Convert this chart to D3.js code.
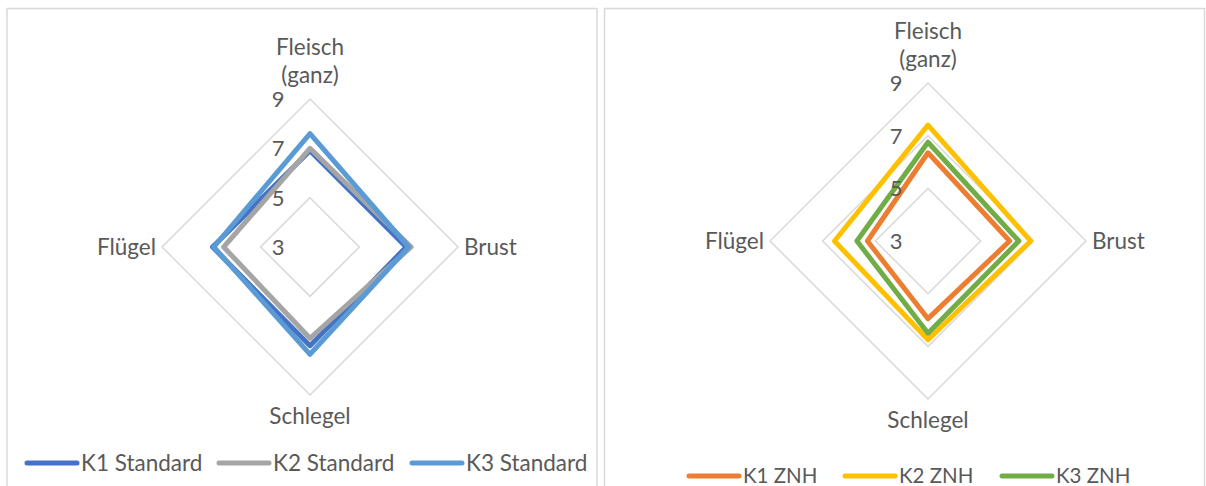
<!DOCTYPE html>
<meta charset="utf-8">
<style>
  body { margin: 0; background: #ffffff; }
  text { font-family: Lato, "Open Sans", sans-serif; fill: #595959; }
</style>
<body>
<script src="https://cdn.jsdelivr.net/npm/d3@7"></script>
<script>

// categories (axis order: top, right, bottom, left)
var axisLabels = [["Fleisch", "(ganz)"], ["Brust"], ["Schlegel"], ["Flügel"]];
var tickValues = [3, 5, 7, 9];

// left chart series
var standardNames = ["K1 Standard", "K2 Standard", "K3 Standard"];
var k1Standard = [6.9, 6.9, 7.0, 6.95];
var k2Standard = [7.0, 7.1, 6.7, 6.5];
var k3Standard = [7.6, 7.0, 7.35, 6.9];

// right chart series
var znhNames = ["K1 ZNH", "K2 ZNH", "K3 ZNH"];
var k1Znh = [6.35, 6.1, 5.95, 5.3];
var k2Znh = [7.4, 6.9, 6.75, 6.55];
var k3Znh = [6.75, 6.45, 6.5, 5.7];

var svg = d3.select("body").append("svg")
  .attr("width", 1206)
  .attr("height", 486);

// panel frames
svg.append("rect").attr("x", 7).attr("y", 8.5).attr("width", 590).attr("height", 520)
  .attr("fill", "none").attr("stroke", "#d9d9d9").attr("stroke-width", 1.5);
svg.append("rect").attr("x", 604.5).attr("y", 8.5).attr("width", 600).attr("height", 520)
  .attr("fill", "none").attr("stroke", "#d9d9d9").attr("stroke-width", 1.5);

function drawRadar(cfg) {
  var g = svg.append("g").attr("transform", "translate(" + cfg.cx + "," + cfg.cy + ")");

  var r = d3.scaleLinear().domain([3, 9]).range([0, cfg.radius]);
  var angle = d3.scalePoint().domain(d3.range(4)).range([0, 1.5 * Math.PI]);

  var radial = d3.lineRadial()
    .angle(function(d, i) { return angle(i); })
    .radius(function(d) { return r(d); })
    .curve(d3.curveLinearClosed);

  // grid rings
  g.selectAll(".ring")
    .data(tickValues.slice(1))
    .enter().append("path")
    .attr("d", function(t) { return radial([t, t, t, t]); })
    .attr("fill", "none")
    .attr("stroke", "#d9d9d9")
    .attr("stroke-width", 1.5);

  // series
  g.selectAll(".series")
    .data(cfg.series)
    .enter().append("path")
    .attr("d", function(d) { return radial(d); })
    .attr("fill", "none")
    .attr("stroke", function(d, i) { return cfg.colors[i]; })
    .attr("stroke-width", 5)
    .attr("stroke-linejoin", "round");

  // tick labels
  g.selectAll(".tick")
    .data(tickValues)
    .enter().append("text")
    .attr("x", -32)
    .attr("y", function(t) { return -r(t); })
    .attr("dy", "0.36em")
    .attr("text-anchor", "middle")
    .style("font-size", "22px")
    .text(function(t) { return t; });

  // category labels
  var R = cfg.radius;
  var fs = "22.5px";
  var top = g.append("text").attr("text-anchor", "middle").style("font-size", fs);
  top.append("tspan").attr("x", 0).attr("y", -R - 44).text(axisLabels[0][0]);
  top.append("tspan").attr("x", 0).attr("y", -R - 16).text(axisLabels[0][1]);

  g.append("text").attr("x", R + 6).attr("y", 0).attr("dy", "0.36em")
    .attr("text-anchor", "start").style("font-size", fs).text(axisLabels[1][0]);
  g.append("text").attr("x", 0).attr("y", R + 21).attr("dy", "0.36em")
    .attr("text-anchor", "middle").style("font-size", fs).text(axisLabels[2][0]);
  g.append("text").attr("x", -R - 6).attr("y", 0).attr("dy", "0.36em")
    .attr("text-anchor", "end").style("font-size", fs).text(axisLabels[3][0]);

  // legend
  var legend = svg.selectAll(null)
    .data(cfg.names)
    .enter().append("g")
    .attr("transform", function(d, i) { return "translate(" + cfg.legendX[i] + "," + cfg.legendY + ")"; });
  legend.append("line")
    .attr("x1", 2).attr("x2", 52)
    .attr("stroke", function(d, i) { return cfg.colors[i]; })
    .attr("stroke-width", 5)
    .attr("stroke-linecap", "round");
  legend.append("text")
    .attr("x", 56).attr("dy", "0.36em")
    .style("font-size", cfg.legendFont)
    .text(function(d) { return d; });
}

drawRadar({
  cx: 310, cy: 247, radius: 148,
  series: [k1Standard, k2Standard, k3Standard],
  colors: ["#4472c4", "#a5a5a5", "#5b9bd5"],
  names: standardNames,
  legendX: [25, 217, 410], legendY: 463, legendFont: "22.5px"
});

drawRadar({
  cx: 928, cy: 241, radius: 158,
  series: [k1Znh, k2Znh, k3Znh],
  colors: ["#ed7d31", "#ffc000", "#70ad47"],
  names: znhNames,
  legendX: [687, 843, 1000], legendY: 476, legendFont: "20.5px"
});

</script>
</body>
